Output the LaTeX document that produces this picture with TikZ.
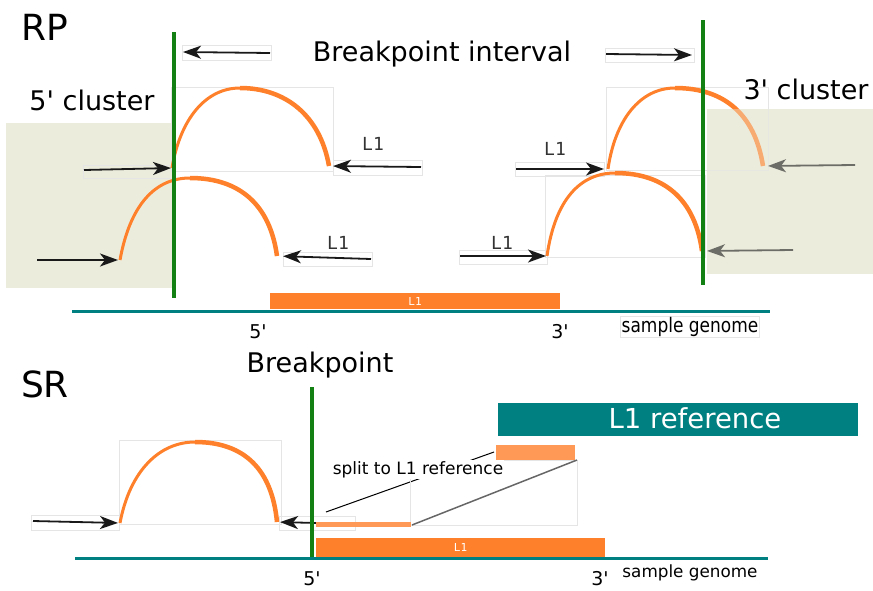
\documentclass[tikz,border=0pt]{standalone}
\usepackage{fontspec}
\setmainfont{DejaVu Sans}[Ligatures=TeXOff]
\setmonofont{DejaVu Sans Mono}
\newfontfamily\condfont{DejaVu Sans}[FakeStretch=0.85, Ligatures=TeXOff]
\usepackage{tikz}
\usetikzlibrary{arrows.meta}
\definecolor{clusterbg}{RGB}{236,236,221}
\definecolor{bpgreen}{RGB}{18,128,18}
\definecolor{readorange}{RGB}{255,128,42}
\definecolor{splitorange}{RGB}{255,153,85}
\definecolor{genometeal}{RGB}{0,128,128}

\begin{document}
\begin{tikzpicture}[
  x=1pt, y=-1pt,
  cluster/.style={fill=clusterbg},
  frame/.style={draw=black!10, line width=0.6pt},
  rise/.style={draw=readorange, line width=3pt},
  fall/.style={draw=readorange, line width=4.5pt},
  mate/.style={-{Stealth[length=18pt,width=13pt,inset=5pt]}, line width=1.8pt, black!90},
  bp/.style={draw=bpgreen, line width=4pt},
  genome/.style={draw=genometeal, line width=3pt},
  bar/.style={fill=readorange, inner sep=0pt, text=white, font=\ttfamily\fontsize{11}{12}\selectfont},
  big/.style={font=\fontsize{36}{40}\selectfont, inner sep=0pt, anchor=base},
  title/.style={font=\fontsize{27}{30}\selectfont, inner sep=1pt, anchor=base},
  lone/.style={font=\ttfamily\fontsize{18}{18}\selectfont, text=black!80, inner sep=0pt},
  prime/.style={font=\fontsize{19}{20}\selectfont, inner sep=0pt, anchor=base},
  smalltext/.style={font=\condfont\fontsize{20}{22}\selectfont, inner sep=1pt, anchor=base},
]
  \useasboundingbox (0,0) rectangle (873,590);

  % ---------- RP ----------
  \fill[cluster] (6,123) rectangle (174,288);
  \fill[cluster] (707,109) rectangle (873,274);

  \draw[frame] (182,45) rectangle (271,60);
  \draw[frame] (605,48) rectangle (694,62);
  \draw[frame] (171,87) rectangle (333,171);
  \draw[frame] (606,87) rectangle (768,170);
  \draw[frame] (545,175) rectangle (705,257);
  \draw[frame] (333,160) rectangle (422,175);
  \draw[frame] (283,252) rectangle (372,266);
  \draw[frame] (515,162) rectangle (604,176);
  \draw[frame] (459,250) rectangle (547,264);
  \draw[frame] (83,165) rectangle (172,178);

  \node[big] (rp) at (45,40) {RP};
  \node[title] (interval) at (442,61) {Breakpoint interval};
  \node[title] (clus5) at (92,110) {5' cluster};
  \node[title] (clus3) at (806,99) {3' cluster};

  % reads
  \coordinate (a1s) at (172,168); \coordinate (a1p) at (240,88); \coordinate (a1e) at (329,166);
  \coordinate (a2s) at (120,260); \coordinate (a2p) at (190,178); \coordinate (a2e) at (277,256);
  \coordinate (a3s) at (608,169); \coordinate (a3p) at (675,88); \coordinate (a3e) at (763,166);
  \coordinate (a4s) at (547,256); \coordinate (a4p) at (615,173); \coordinate (a4e) at (702,251);
  \draw[rise] (a1s) .. controls (180,120) and (205,88) .. (a1p);
  \draw[fall] (a1p) .. controls (285,88) and (320,115) .. (a1e);
  \draw[rise] (a2s) .. controls (130,205) and (155,178) .. (a2p);
  \draw[fall] (a2p) .. controls (240,178) and (270,205) .. (a2e);
  \draw[rise] (a3s) .. controls (615,120) and (640,88) .. (a3p);
  \draw[fall] (a3p) .. controls (725,88) and (755,115) .. (a3e);
  \draw[rise] (a4s) .. controls (555,200) and (580,173) .. (a4p);
  \draw[fall] (a4p) .. controls (665,173) and (695,200) .. (a4e);

  % mates
  \coordinate (m1) at (270,53); \coordinate (m1t) at (183,52);
  \coordinate (m2) at (606,54); \coordinate (m2t) at (692,55);
  \coordinate (m3) at (84,170);
  \coordinate (m4) at (37,260);
  \coordinate (m5) at (421,167);
  \coordinate (m6) at (371,259);
  \coordinate (m7) at (516,169);
  \coordinate (m8) at (460,256);
  \coordinate (m9) at (855,165);
  \coordinate (m10) at (793,250);
  \draw[mate] (m1) -- (m1t);
  \draw[mate] (m2) -- (m2t);
  \draw[mate, shorten >=1pt] (m3) -- (a1s);
  \draw[mate, shorten >=2pt] (m4) -- (a2s);
  \draw[mate, shorten >=4pt] (m5) -- (a1e);
  \draw[mate, shorten >=6pt] (m6) -- (a2e);
  \draw[mate, shorten >=4pt] (m7) -- (a3s);
  \draw[mate, shorten >=1pt] (m8) -- (a4s);
  \draw[mate, shorten >=5pt] (m9) -- (a3e);
  \draw[mate, shorten >=5pt] (m10) -- (a4e);

  \node[lone] (l1c) at (373,144) {L1};
  \node[lone] (l1d) at (338,243) {L1};
  \node[lone] (l1g) at (555,149) {L1};
  \node[lone] (l1h) at (502,243) {L1};

  % 3' cluster shading over its reads
  \fill[cluster, fill opacity=0.4] (707,109) rectangle (873,274);

  \coordinate (bp5t) at (174,32); \coordinate (bp5b) at (174,298);
  \coordinate (bp3t) at (703,20); \coordinate (bp3b) at (703,285);
  \draw[bp] (bp5t) -- (bp5b);
  \draw[bp] (bp3t) -- (bp3b);

  \node[bar, minimum width=290pt, minimum height=16pt] (l1rp) at (415,301) {L1};
  \coordinate (g1l) at (72,311); \coordinate (g1r) at (770,311);
  \draw[genome] (g1l) -- (g1r);
  \node[prime] (rp5) at (258,338) {5'};
  \node[prime] (rp3) at (560,338) {3'};
  \node[smalltext, draw=black!10] (sg1) at (690,332) {sample genome};

  % ---------- SR ----------
  \draw[frame] (119,440) rectangle (281,524);
  \draw[frame] (31,515) rectangle (119,530);
  \draw[frame] (279,516) rectangle (355,530);

  \node[big] (sr) at (45,397) {SR};
  \node[title] (bpsr) at (320,372) {Breakpoint};

  \node[fill=genometeal, minimum width=360pt, minimum height=33pt, inner sep=0pt] (ref) at (678,419.5) {};
  \node[text=white, font=\fontsize{27.5}{30}\selectfont, inner sep=0pt, anchor=base] (reftext) at (695,428) {L1 reference};
  \node[fill=splitorange, minimum width=79pt, minimum height=15pt, inner sep=0pt] (refpart) at (535.5,452.5) {};

  \coordinate (s1) at (326,512);
  \coordinate (s2) at (494,452);
  \draw[black, line width=1pt] (s1) -- (s2);
  \draw[frame] (410,460) rectangle (577,525);

  \coordinate (a5s) at (120,523); \coordinate (a5p) at (195,442); \coordinate (a5e) at (277,522);
  \draw[rise] (a5s) .. controls (130,470) and (160,442) .. (a5p);
  \draw[fall] (a5p) .. controls (245,442) and (272,470) .. (a5e);

  \coordinate (m11) at (33,521);
  \coordinate (m12) at (317,523);
  \draw[mate, shorten >=2pt] (m11) -- (a5s);
  \draw[mate, shorten >=3pt] (m12) -- (a5e);

  \node[fill=splitorange, minimum width=95pt, minimum height=5pt, inner sep=0pt] (splitpart) at (363.5,524) {};
  \coordinate (gl1) at (412,525); \coordinate (gl2) at (577,460);
  \draw[black!60, line width=1.5pt] (gl1) -- (gl2);
  \node[fill=white, font=\fontsize{17}{18}\selectfont, inner sep=1pt, anchor=base] (split) at (418,474) {split to L1 reference};

  \coordinate (bpt) at (312,387); \coordinate (bpb) at (312,558);
  \draw[bp] (bpt) -- (bpb);

  \node[bar, minimum width=289pt, minimum height=19pt] (l1sr) at (460.5,547.5) {L1};
  \coordinate (g2l) at (75,558); \coordinate (g2r) at (768,558);
  \draw[genome] (g2l) -- (g2r);
  \node[prime] (sr5) at (312,585) {5'};
  \node[prime] (sr3) at (600,585) {3'};
  \node[smalltext, font=\fontsize{16.8}{18}\selectfont] (sg2) at (690,577) {sample genome};
\end{tikzpicture}
\end{document}
